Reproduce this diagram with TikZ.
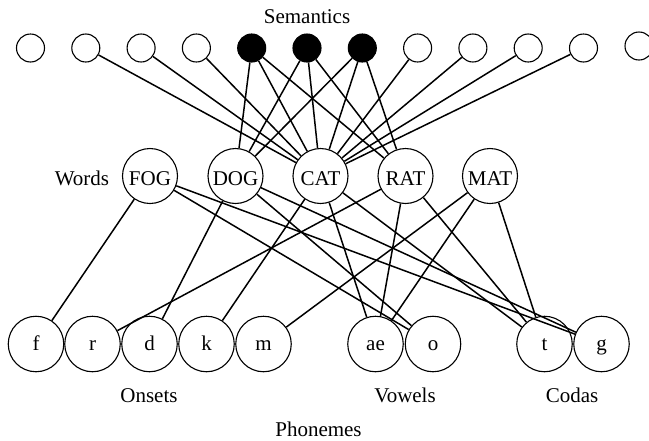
\documentclass[tikz,border=0pt]{standalone}
\usepackage{fontspec}
\setmainfont{Liberation Serif}
\begin{document}
\begin{tikzpicture}[x=1pt,y=-1pt,
  font=\fontsize{21}{25}\selectfont,
  sem/.style={circle,draw,line width=1.1pt,inner sep=0pt,minimum size=28pt},
  semon/.style={sem,fill=black},
  word/.style={circle,draw,line width=1.1pt,inner sep=0pt,minimum size=55pt,text height=18pt,text depth=0pt},
  phon/.style={circle,draw,line width=1.1pt,inner sep=0pt,minimum size=55.5pt,text height=13pt,text depth=0pt},
  lbl/.style={anchor=base,inner sep=0pt},
  link/.style={line width=1.5pt}]
\useasboundingbox (0,0) rectangle (649,440);
% semantics
\node[lbl] (semlbl) at (307,23) {Semantics};
\node[sem] (s1) at (30.5,48) {};
\node[sem] (s2) at (85.8,48) {};
\node[sem] (s3) at (141.1,48) {};
\node[sem] (s4) at (196.4,48) {};
\node[semon] (s5) at (251.7,48) {};
\node[semon] (s6) at (307,48) {};
\node[semon] (s7) at (362.3,48) {};
\node[sem] (s8) at (417.6,48) {};
\node[sem] (s9) at (472.9,48) {};
\node[sem] (s10) at (528.2,48) {};
\node[sem] (s11) at (583.5,48) {};
\node[sem] (s12) at (639,46) {};
% words
\node[lbl] (wordlbl) at (82,185) {Words};
\node[word] (FOG) at (150,176) {FOG};
\node[word] (DOG) at (235.5,176) {DOG};
\node[word] (CAT) at (320.5,176) {CAT};
\node[word] (RAT) at (405.5,176) {RAT};
\node[word] (MAT) at (490,176) {MAT};
% phonemes
\node[phon] (f) at (36,344) {f};
\node[phon] (r) at (92.5,344) {r};
\node[phon] (d) at (149.5,344) {d};
\node[phon] (k) at (206.5,344) {k};
\node[phon] (m) at (263.5,344) {m};
\node[phon] (ae) at (375.5,344) {ae};
\node[phon] (o) at (433,344) {o};
\node[phon] (t) at (544.5,344) {t};
\node[phon] (g) at (601.5,344) {g};
\node[lbl] (onsets) at (149,402) {Onsets};
\node[lbl] (vowels) at (405,402) {Vowels};
\node[lbl] (codas) at (572,402) {Codas};
\node[lbl] (phonemes) at (318.5,436) {Phonemes};
% semantics to words
\foreach \s in {s2,s3,s4,s8,s9,s10,s11} \draw[link] (\s) -- (CAT);
\foreach \s in {s5,s6,s7} {
  \draw[link] (\s) -- (DOG);
  \draw[link] (\s) -- (CAT);
  \draw[link] (\s) -- (RAT);
}
% words to phonemes
\draw[link] (FOG) -- (f);
\draw[link] (FOG) -- (o);
\draw[link] (FOG) -- (g);
\draw[link] (DOG) -- (d);
\draw[link] (DOG) -- (o);
\draw[link] (DOG) -- (g);
\draw[link] (CAT) -- (k);
\draw[link] (CAT) -- (ae);
\draw[link] (CAT) -- (t);
\draw[link] (RAT) -- (r);
\draw[link] (RAT) -- (ae);
\draw[link] (RAT) -- (t);
\draw[link] (MAT) -- (m);
\draw[link] (MAT) -- (ae);
\draw[link] (MAT) -- (t);
\end{tikzpicture}
\end{document}
